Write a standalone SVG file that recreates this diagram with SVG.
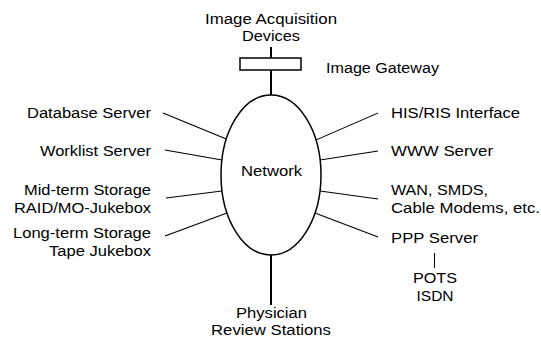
<svg xmlns="http://www.w3.org/2000/svg" width="541" height="337" viewBox="0 0 541 337">
<style>
text{font-family:"Liberation Sans",Arial,sans-serif;font-size:14px;fill:#000}
.e{text-anchor:end}.m{text-anchor:middle}
.c{stroke:#000;stroke-width:1.2;fill:none}
.b{stroke:#000;stroke-width:2;fill:none}
.t{stroke:#000;stroke-width:1;fill:none}
</style>
<rect width="541" height="337" fill="#fff"/>
<g id="connectors">
<line class="b" x1="271" y1="47" x2="271" y2="58"/>
<line class="b" x1="271" y1="70" x2="271" y2="95"/>
<line class="b" x1="271" y1="255" x2="271" y2="305"/>
<line class="c" x1="163" y1="113" x2="226.3" y2="139"/>
<line class="c" x1="165" y1="150" x2="222" y2="160"/>
<line class="c" x1="166" y1="198" x2="222" y2="191"/>
<line class="c" x1="165" y1="236" x2="227" y2="213"/>
<line class="t" x1="378" y1="113" x2="316" y2="140"/>
<line class="c" x1="378" y1="151" x2="320" y2="160"/>
<line class="c" x1="378" y1="199" x2="320" y2="191"/>
<line class="c" x1="378" y1="237" x2="315" y2="213"/>
<line class="t" x1="434.5" y1="253" x2="434.5" y2="268"/>
</g>
<g id="image-acquisition">
<text class="m" x="271" y="24" textLength="132" lengthAdjust="spacingAndGlyphs">Image Acquisition</text>
<text class="m" x="271" y="41" textLength="58" lengthAdjust="spacingAndGlyphs">Devices</text>
</g>
<g id="image-gateway">
<rect x="240" y="58" width="61" height="12" fill="#fff" stroke="#000" stroke-width="1.5"/>
<text x="326" y="73" textLength="113" lengthAdjust="spacingAndGlyphs">Image Gateway</text>
</g>
<g id="network">
<ellipse cx="271" cy="175" rx="50" ry="80" fill="#fff" stroke="#000" stroke-width="1.5"/>
<text class="m" x="271.5" y="176" textLength="61" lengthAdjust="spacingAndGlyphs">Network</text>
</g>
<g id="database-server">
<text class="e" x="151" y="118" textLength="124" lengthAdjust="spacingAndGlyphs">Database Server</text>
</g>
<g id="worklist-server">
<text class="e" x="151" y="156" textLength="111" lengthAdjust="spacingAndGlyphs">Worklist Server</text>
</g>
<g id="midterm-storage">
<text class="e" x="151" y="195" textLength="127" lengthAdjust="spacingAndGlyphs">Mid-term Storage</text>
<text class="e" x="151" y="213" textLength="137" lengthAdjust="spacingAndGlyphs">RAID/MO-Jukebox</text>
</g>
<g id="longterm-storage">
<text class="e" x="151" y="238" textLength="138" lengthAdjust="spacingAndGlyphs">Long-term Storage</text>
<text class="e" x="151" y="256" textLength="102" lengthAdjust="spacingAndGlyphs">Tape Jukebox</text>
</g>
<g id="his-ris">
<text x="391" y="118" textLength="129" lengthAdjust="spacingAndGlyphs">HIS/RIS Interface</text>
</g>
<g id="www-server">
<text x="391" y="156" textLength="102" lengthAdjust="spacingAndGlyphs">WWW Server</text>
</g>
<g id="wan">
<text x="391" y="195" textLength="97" lengthAdjust="spacingAndGlyphs">WAN, SMDS,</text>
<text x="391" y="213" textLength="149" lengthAdjust="spacingAndGlyphs">Cable Modems, etc.</text>
</g>
<g id="ppp-server">
<text x="391" y="243" textLength="87" lengthAdjust="spacingAndGlyphs">PPP Server</text>
</g>
<g id="pots-isdn">
<text class="m" x="435" y="283" textLength="44" lengthAdjust="spacingAndGlyphs">POTS</text>
<text class="m" x="435" y="301" textLength="37" lengthAdjust="spacingAndGlyphs">ISDN</text>
</g>
<g id="physician">
<text class="m" x="271.5" y="318" textLength="71" lengthAdjust="spacingAndGlyphs">Physician</text>
<text class="m" x="271" y="335" textLength="120" lengthAdjust="spacingAndGlyphs">Review Stations</text>
</g>
</svg>
